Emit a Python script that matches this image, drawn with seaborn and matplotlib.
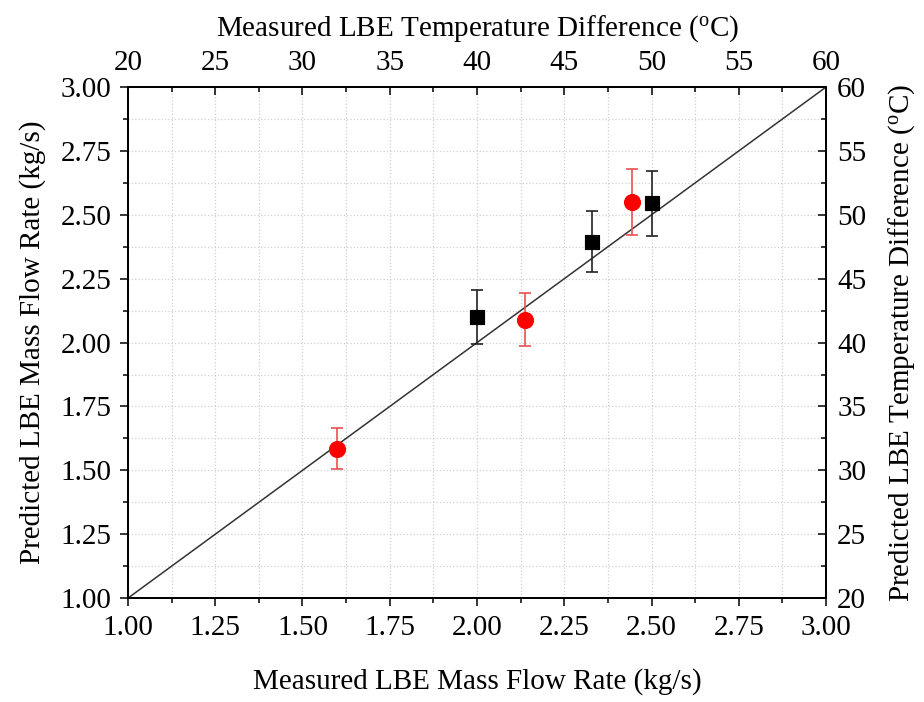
import numpy as np
import pandas as pd
import seaborn as sns
import matplotlib
matplotlib.use('Agg')
import matplotlib.pyplot as plt
from matplotlib.ticker import MultipleLocator

# mass flow rate points (bottom / left axes)
flow_meas = [2.00, 2.33, 2.50]
flow_pred = [2.10, 2.395, 2.545]
flow_err = [0.105, 0.118, 0.128]

# temperature difference points (top / right axes)
temp_meas = [32.0, 42.75, 48.9]
temp_pred = [31.7, 41.8, 51.0]
temp_err = [1.6, 2.1, 2.6]

diag = [1.0, 3.0]

sns.set_theme(style='white')
plt.rcParams['font.family'] = ['Liberation Serif', 'DejaVu Serif']
plt.rcParams['mathtext.fontset'] = 'custom'
plt.rcParams['mathtext.rm'] = 'Liberation Serif'
plt.rcParams['mathtext.it'] = 'Liberation Serif:italic'
plt.rcParams['text.color'] = 'black'
plt.rcParams['axes.labelcolor'] = 'black'
plt.rcParams['xtick.color'] = 'black'
plt.rcParams['ytick.color'] = 'black'

fs = 21

fig = plt.figure(figsize=(9.24, 7.02), dpi=100)
ax = fig.add_axes([0.1385, 0.148, 0.7555, 0.728])

df_f = pd.DataFrame({'m': flow_meas, 'p': flow_pred})
df_t = pd.DataFrame({'m': temp_meas, 'p': temp_pred})

sns.lineplot(x=diag, y=diag, ax=ax, color='#333333', lw=1.1)
ax.errorbar(flow_meas, flow_pred, yerr=flow_err, fmt='none', ecolor='#222222',
            elinewidth=1.2, capsize=4.5, capthick=1.2, zorder=3)
sns.scatterplot(data=df_f, x='m', y='p', ax=ax, marker='s', color='black',
                s=110, edgecolor='black', zorder=4)

ax.set_xlim(1, 3)
ax.set_ylim(1, 3)
ax.xaxis.set_major_locator(MultipleLocator(0.25))
ax.xaxis.set_minor_locator(MultipleLocator(0.125))
ax.yaxis.set_major_locator(MultipleLocator(0.25))
ax.yaxis.set_minor_locator(MultipleLocator(0.125))
ax.xaxis.set_major_formatter(plt.FormatStrFormatter('%.2f'))
ax.yaxis.set_major_formatter(plt.FormatStrFormatter('%.2f'))
ax.grid(which='both', color='#d0d0d0', ls=':', lw=0.9)
ax.tick_params(which='major', direction='out', length=6, width=1.1, labelsize=fs,
               colors='black', bottom=True, left=True, top=False, right=False, pad=6)
ax.tick_params(which='minor', direction='out', length=3.5, width=1.1,
               bottom=True, left=True, top=False, right=False)
ax.set_xlabel('Measured LBE Mass Flow Rate (kg/s)', fontsize=fs, labelpad=20)
ax.set_ylabel('Predicted LBE Mass Flow Rate (kg/s)', fontsize=fs, labelpad=10)
for sp in ax.spines.values():
    sp.set_color('black')
    sp.set_linewidth(1.2)

# top / right axes for temperature difference
ax_r = ax.twinx()
ax_t = ax_r.twiny()
ax_t.errorbar(temp_meas, temp_pred, yerr=temp_err, fmt='none', ecolor='#e85050',
              elinewidth=1.2, capsize=4.5, capthick=1.2, zorder=3)
sns.scatterplot(data=df_t, x='m', y='p', ax=ax_t, marker='o', color='red',
                s=130, edgecolor='red', zorder=4)
ax_t.set_xlim(20, 60)
ax_r.set_ylim(20, 60)
ax_t.set_ylim(20, 60)
ax_t.xaxis.set_major_locator(MultipleLocator(5))
ax_t.xaxis.set_minor_locator(MultipleLocator(2.5))
ax_r.yaxis.set_major_locator(MultipleLocator(5))
ax_r.yaxis.set_minor_locator(MultipleLocator(2.5))
ax_t.tick_params(axis='x', which='major', direction='in', length=6, width=1.1,
                 labelsize=fs, top=True, bottom=False, labeltop=True, labelbottom=False,
                 pad=8, colors='black')
ax_t.tick_params(axis='x', which='minor', direction='in', length=3.5, width=1.1,
                 top=True, bottom=False)
ax_r.tick_params(axis='y', which='major', direction='in', length=6, width=1.1,
                 labelsize=fs, right=True, left=False, pad=8, colors='black')
ax_r.tick_params(axis='y', which='minor', direction='in', length=3.5, width=1.1,
                 right=True, left=False)
ax_t.set_xlabel(r'Measured LBE Temperature Difference ($^{\rm o}$C)', fontsize=fs, labelpad=10)
ax_r.set_ylabel(r'Predicted LBE Temperature Difference ($^{\rm o}$C)', fontsize=fs, labelpad=14)
ax_t.set_ylabel('')
for a in (ax_r, ax_t):
    for sp in a.spines.values():
        sp.set_color('black')
        sp.set_linewidth(1.2)

fig.savefig('out.png', dpi=100)
